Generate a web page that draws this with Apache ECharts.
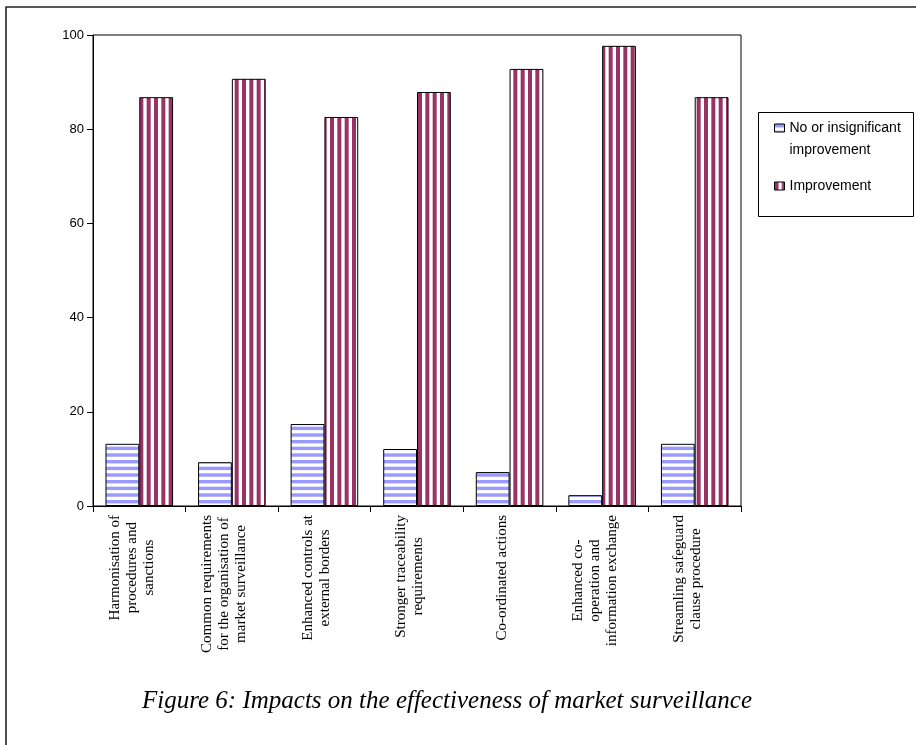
<!DOCTYPE html>
<html>
<head>
<meta charset="utf-8">
<script src="https://cdn.jsdelivr.net/npm/echarts@6/dist/echarts.min.js"></script>
<style>
  html, body { margin: 0; padding: 0; background: #fff; }
  #chart { width: 916px; height: 745px; }
</style>
</head>
<body>
<div id="chart"></div>
<script>
// Measures of market surveillance (one label per category; '\n' breaks lines)
const categories = [
  'Harmonisation of\nprocedures and\nsanctions',
  'Common requirements\nfor the organisation of\nmarket surveillance',
  'Enhanced controls at\nexternal borders',
  'Stronger traceability\nrequirements',
  'Co-ordinated actions',
  'Enhanced co-\noperation and\ninformation exchange',
  'Streamling safeguard\nclause procedure'
];

// Share of answers (%)
const noImprovement = [13.2, 9.3, 17.4, 12.1, 7.2, 2.3, 13.2];
const improvement   = [86.8, 90.7, 82.6, 87.9, 92.8, 97.7, 86.8];

const seriesNames  = ['No or insignificant improvement', 'Improvement'];
const legendLines  = [['No or insignificant', 'improvement'], ['Improvement']];

const yTicks = { min: 0, max: 100, step: 20 };

const captionText = 'Figure 6: Impacts on the effectiveness of market surveillance';

// Striped fills for the bars
function stripes(vertical, ink, size, count, band) {
  const c = document.createElement('canvas');
  c.width = vertical ? size : 4;
  c.height = vertical ? 4 : size;
  const g = c.getContext('2d');
  g.fillStyle = '#ffffff';
  g.fillRect(0, 0, c.width, c.height);
  g.fillStyle = ink;
  const period = size / count;
  for (let k = 0; k < count; k++) {
    if (vertical) g.fillRect(k * period, 0, band, c.height);
    else g.fillRect(0, k * period, c.width, band);
  }
  return { image: c, repeat: 'repeat' };
}

const blueFill = stripes(false, '#9999ff', 20, 3, 3.4);
const plumFill = stripes(true, '#993366', 22, 3, 4);

// Legend text: multi-line entries get a blank spacer line on top so the
// first line of text sits level with the icon
function legendText(name) {
  const lines = legendLines[seriesNames.indexOf(name)];
  const body = lines.map(s => '{t|' + s + '}').join('\n');
  return lines.length > 1 ? '{s|\u00a0}\n' + body : body;
}

const chart = echarts.init(document.getElementById('chart'), null, { renderer: 'canvas' });

chart.setOption({
  animation: false,
  backgroundColor: '#ffffff',
  title: {
    text: captionText,
    left: 442,
    top: 684,
    textAlign: 'center',
    textStyle: {
      fontFamily: 'Liberation Serif',
      fontStyle: 'italic',
      fontWeight: 'normal',
      fontSize: 25,
      color: '#000'
    }
  },
  graphic: [
    {
      type: 'polyline',
      shape: { points: [[6, 745], [6, 7], [916, 7]] },
      style: { stroke: '#222', lineWidth: 1.6, fill: null },
      silent: true
    },
    {
      type: 'rect',
      shape: { x: 758.5, y: 112.5, width: 155, height: 104 },
      style: { stroke: '#000', lineWidth: 1, fill: null },
      silent: true
    }
  ],
  legend: {
    orient: 'vertical',
    left: 774,
    top: 99,
    padding: 0,
    icon: 'rect',
    itemWidth: 10,
    itemHeight: 8,
    itemGap: 22,
    selectedMode: false,
    itemStyle: { borderColor: '#000', borderWidth: 1 },
    textStyle: {
      fontFamily: 'Liberation Sans',
      fontSize: 14,
      color: '#000',
      rich: {
        s: { fontSize: 14, lineHeight: 22 },
        t: { fontFamily: 'Liberation Sans', fontSize: 14, lineHeight: 22, color: '#000' }
      }
    },
    data: seriesNames,
    formatter: legendText
  },
  grid: {
    left: 93,
    top: 35,
    width: 648,
    height: 471,
    show: true,
    borderColor: '#000',
    borderWidth: 1,
    backgroundColor: 'transparent',
    containLabel: false
  },
  xAxis: {
    type: 'category',
    data: categories,
    axisLine: { lineStyle: { color: '#000', width: 1 } },
    axisTick: { show: true, length: 6, alignWithLabel: false, lineStyle: { color: '#000' } },
    axisLabel: {
      interval: 0,
      rotate: 90,
      margin: 9,
      padding: [0, 0, 15, 0],
      color: '#000',
      fontFamily: 'Liberation Serif',
      fontSize: 15,
      lineHeight: 17,
      formatter: v => v.split('\n').map(s => '{c|' + s + '}').join('\n'),
      rich: {
        c: {
          align: 'center',
          fontFamily: 'Liberation Serif',
          fontSize: 15,
          lineHeight: 17,
          color: '#000'
        }
      }
    }
  },
  yAxis: {
    type: 'value',
    min: yTicks.min,
    max: yTicks.max,
    interval: yTicks.step,
    axisLine: { show: true, lineStyle: { color: '#000', width: 1 } },
    axisTick: { show: true, length: 6, lineStyle: { color: '#000' } },
    splitLine: { show: false },
    axisLabel: {
      margin: 9,
      color: '#000',
      fontFamily: 'Liberation Sans',
      fontSize: 13
    }
  },
  series: [
    {
      name: seriesNames[0],
      type: 'bar',
      data: noImprovement,
      barGap: '0%',
      barCategoryGap: '27%',
      itemStyle: { color: blueFill, borderColor: '#000', borderWidth: 1 },
      emphasis: { disabled: true }
    },
    {
      name: seriesNames[1],
      type: 'bar',
      data: improvement,
      barGap: '0%',
      barCategoryGap: '27%',
      itemStyle: { color: plumFill, borderColor: '#000', borderWidth: 1 },
      emphasis: { disabled: true }
    }
  ]
});
</script>
</body>
</html>
